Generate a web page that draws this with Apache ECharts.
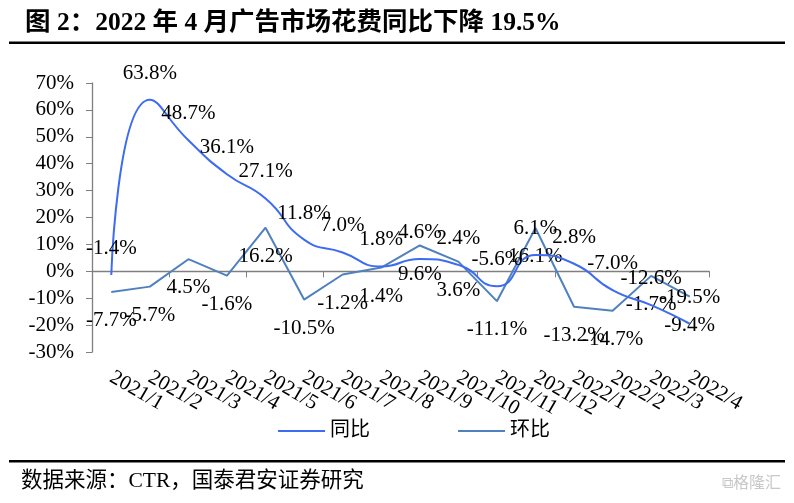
<!DOCTYPE html>
<html>
<head>
<meta charset="utf-8">
<script src="https://cdn.jsdelivr.net/npm/echarts@6/dist/echarts.min.js"></script>
<style>
html,body{margin:0;padding:0;background:#fff;}
#c{width:794px;height:503px;}
</style>
</head>
<body>
<div id="c"></div>
<script>
const categories = ['2021/1','2021/2','2021/3','2021/4','2021/5','2021/6','2021/7','2021/8','2021/9','2021/10','2021/11','2021/12','2022/1','2022/2','2022/3','2022/4'];
const yoy = [-1.4, 63.8, 48.7, 36.1, 27.1, 11.8, 7.0, 1.8, 4.6, 2.4, -5.6, 6.1, 2.8, -7.0, -12.6, -19.5];
const mom = [-7.7, -5.7, 4.5, -1.6, 16.2, -10.5, -1.2, 1.4, 9.6, 3.6, -11.1, 16.1, -13.2, -14.7, -1.7, -9.4];
const yTicks = {min: -30, max: 70, interval: 10};
const seriesNames = ['同比', '环比'];
const titleText = '图 2：2022 年 4 月广告市场花费同比下降 19.5%';
const sourceText = '数据来源：CTR，国泰君安证券研究';

const FONT = "'Liberation Serif', 'Noto Sans CJK SC', serif";
const chart = echarts.init(document.getElementById('c'));
const pct = p => p.value.toFixed(1) + '%';

chart.setOption({
  animation: false,
  backgroundColor: '#fff',
  textStyle: {fontFamily: FONT},
  grid: {left: 92, right: 85, top: 83, bottom: 151, containLabel: false},
  legend: {
    data: seriesNames,
    left: 273, top: 416,
    icon: 'rect', itemWidth: 47, itemHeight: 2, itemGap: 88,
    textStyle: {fontFamily: FONT, fontSize: 20, color: '#000'}
  },
  xAxis: [{
    type: 'category', data: categories, position: 'bottom', boundaryGap: true,
    axisLine: {show: false, onZero: false}, axisTick: {show: false},
    axisLabel: {rotate: -30, margin: 24, fontSize: 21, color: '#000', fontFamily: FONT, interval: 0}
  }, {
    type: 'category', data: categories, position: 'bottom', boundaryGap: true,
    axisLine: {show: true, onZero: true, lineStyle: {color: '#7f7f7f', width: 1.3}},
    axisTick: {show: true, length: 6, inside: false, lineStyle: {color: '#7f7f7f'}},
    axisLabel: {show: false}
  }],
  yAxis: {
    type: 'value', min: yTicks.min, max: yTicks.max, interval: yTicks.interval,
    splitLine: {show: false},
    axisLine: {show: true, onZero: false, lineStyle: {color: '#7f7f7f', width: 1.3}},
    axisTick: {show: true, length: 6, lineStyle: {color: '#7f7f7f'}},
    axisLabel: {formatter: '{value}%', fontSize: 21, color: '#000', fontFamily: FONT, margin: 18}
  },
  series: [{
    name: seriesNames[0], type: 'line', data: yoy, smooth: 0.55,
    showSymbol: true, symbol: 'circle', symbolSize: 0.1,
    lineStyle: {color: '#3d6bf2', width: 2},
    itemStyle: {color: '#3d6bf2'},
    label: {show: true, position: 'top', distance: 16, formatter: pct, fontSize: 21, color: '#000', fontFamily: FONT},
    z: 3
  }, {
    name: seriesNames[1], type: 'line', data: mom, smooth: false,
    showSymbol: true, symbol: 'circle', symbolSize: 0.1,
    lineStyle: {color: '#4f81bd', width: 2},
    itemStyle: {color: '#4f81bd'},
    label: {show: true, position: 'bottom', distance: 18, formatter: pct, fontSize: 21, color: '#000', fontFamily: FONT},
    z: 2
  }],
  graphic: [
    {type: 'text', left: 25, top: 11, style: {text: titleText, font: "bold 25.5px 'Liberation Serif', 'Noto Sans CJK SC', serif", fill: '#000'}},
    {type: 'rect', shape: {x: 9, y: 41.5, width: 776, height: 2.5}, style: {fill: '#000'}},
    {type: 'rect', shape: {x: 9, y: 460, width: 776, height: 2.5}, style: {fill: '#000'}},
    {type: 'text', left: 21, top: 471, style: {text: sourceText, font: "21.5px 'Liberation Serif', 'Noto Sans CJK SC', serif", fill: '#000'}},
    {type: 'text', left: 722, top: 474, style: {text: '⧉格隆汇', font: "16px 'Noto Sans CJK SC', sans-serif", fill: '#c8c8c8'}}
  ]
});
</script>
</body>
</html>
